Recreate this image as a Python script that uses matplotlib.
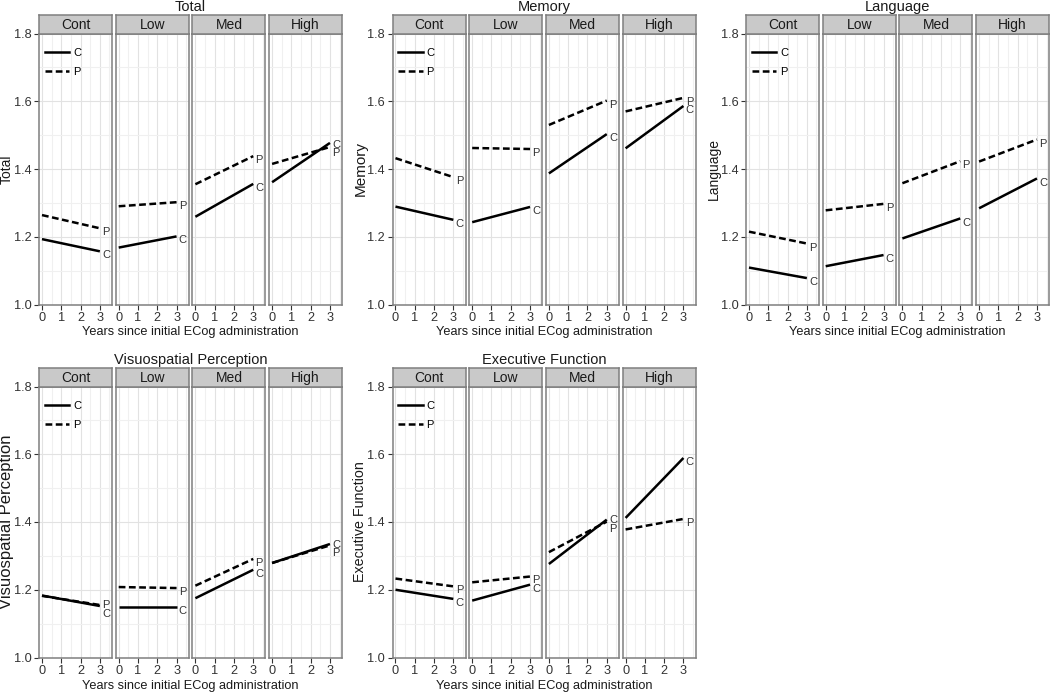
import matplotlib
matplotlib.use("Agg")
import matplotlib.pyplot as plt
from matplotlib.lines import Line2D

plt.rcParams["font.family"] = ["Liberation Sans", "DejaVu Sans"]

# ---- data: estimated values at year 0 and year 3, per impairment group ----
GROUPS = ["Cont", "Low", "Med", "High"]
YEARS = [0, 3]

TOTAL_C = [(1.193, 1.157), (1.168, 1.201), (1.259, 1.356), (1.361, 1.477)]
TOTAL_P = [(1.264, 1.225), (1.290, 1.302), (1.355, 1.438), (1.415, 1.465)]

MEMORY_C = [(1.289, 1.250), (1.243, 1.288), (1.387, 1.503), (1.461, 1.586)]
MEMORY_P = [(1.432, 1.376), (1.462, 1.459), (1.530, 1.602), (1.570, 1.610)]

LANGUAGE_C = [(1.109, 1.078), (1.113, 1.146), (1.195, 1.254), (1.284, 1.372)]
LANGUAGE_P = [(1.215, 1.180), (1.278, 1.297), (1.358, 1.423), (1.422, 1.487)]

VISUO_C = [(1.183, 1.152), (1.150, 1.150), (1.175, 1.259), (1.279, 1.335)]
VISUO_P = [(1.182, 1.155), (1.208, 1.205), (1.212, 1.291), (1.279, 1.331)]

EXEC_C = [(1.200, 1.173), (1.168, 1.215), (1.276, 1.407), (1.412, 1.589)]
EXEC_P = [(1.233, 1.210), (1.222, 1.239), (1.311, 1.401), (1.378, 1.409)]

DOMAINS = [
    ("Total", TOTAL_C, TOTAL_P),
    ("Memory", MEMORY_C, MEMORY_P),
    ("Language", LANGUAGE_C, LANGUAGE_P),
    ("Visuospatial Perception", VISUO_C, VISUO_P),
    ("Executive Function", EXEC_C, EXEC_P),
]

Y_TICKS = [1.0, 1.2, 1.4, 1.6, 1.8]
X_TICKS = [0, 1, 2, 3]
X_LABEL = "Years since initial ECog administration"

# ---- layout (pixels) ----
W, H = 1050, 694
GROUP_LEFT = [39, 392.5, 746]
ROW_STRIP_TOP = [15, 368]
STRIP_H = 18.5
PANEL_H = 271
PANEL_W = 73
PANEL_STEP = 76.7
XLIM = (-0.155, 3.63)
YLIM = (1.0, 1.8)
YLABEL_SIZE = [10, 11, 10, 12, 10.3]   # the panels were not all scaled alike

BORDER = "#7f7f7f"
STRIP_FILL = "#c9c9c9"
TEXT = "#1a1a1a"
TICK_TEXT = "#333333"
LW = 1.8
DASH = (0, (2.7, 1.4))

fig = plt.figure(figsize=(W / 100, H / 100), dpi=100)


def px_axes(left, top, width, height):
    return fig.add_axes([left / W, 1 - (top + height) / H, width / W, height / H])


def label_positions(c_end, p_end):
    """Put the end labels a bit below the line ends, pushed apart if close."""
    yc, yp = c_end - 0.012, p_end - 0.012
    if abs(yc - yp) < 0.025:
        mid = (yc + yp) / 2
        sign = 1 if c_end >= p_end else -1
        yc, yp = mid + sign * 0.0125, mid - sign * 0.0125
    return yc, yp


def draw_domain(idx, title, c_vals, p_vals):
    row, col = divmod(idx, 3)
    left = GROUP_LEFT[col]
    strip_top = ROW_STRIP_TOP[row]
    ax_top = strip_top + STRIP_H
    group_w = PANEL_STEP * 3 + PANEL_W

    for g, name in enumerate(GROUPS):
        x0 = left + g * PANEL_STEP
        ax = px_axes(x0, ax_top, PANEL_W, PANEL_H)
        ax.set_xlim(*XLIM)
        ax.set_ylim(*YLIM)
        ax.set_xticks(X_TICKS)
        ax.set_xticks([0.5, 1.5, 2.5, 3.5], minor=True)
        ax.set_yticks(Y_TICKS)
        ax.set_yticks([1.1, 1.3, 1.5, 1.7], minor=True)
        ax.grid(which="major", color="#e2e2e2", lw=0.8)
        ax.grid(which="minor", color="#f0f0f0", lw=0.8)
        ax.set_axisbelow(True)
        for s in ax.spines.values():
            s.set_color(BORDER)
            s.set_linewidth(1.1)
        ax.tick_params(which="minor", length=0)
        ax.tick_params(axis="x", which="major", length=3.5, width=0.8,
                       color="#333333", labelsize=9.2, labelcolor=TICK_TEXT, pad=1.6)
        if g == 0:
            ax.set_yticklabels([f"{v:.1f}" for v in Y_TICKS])
            ax.tick_params(axis="y", which="major", length=3.5, width=0.8,
                           color="#333333", labelsize=9.2, labelcolor=TICK_TEXT, pad=2)
        else:
            ax.tick_params(axis="y", which="major", length=0, labelleft=False)

        cy, py = c_vals[g], p_vals[g]
        ax.plot(YEARS, cy, color="black", lw=LW, solid_capstyle="butt")
        ax.plot(YEARS, py, color="black", lw=LW, linestyle=DASH, dash_capstyle="butt")
        lc, lp = label_positions(cy[-1], py[-1])
        ax.text(3.12, lc, "C", fontsize=8, color="#333333", ha="left", va="center")
        ax.text(3.12, lp, "P", fontsize=8, color="#333333", ha="left", va="center")

        if g == 0:
            handles = [Line2D([], [], color="black", lw=LW),
                       Line2D([], [], color="black", lw=LW, linestyle=DASH)]
            ax.legend(handles, ["C", "P"], loc="upper left",
                      bbox_to_anchor=(-0.03, 1 - 7 / PANEL_H),
                      frameon=False, fontsize=8, handlelength=2.2,
                      handletextpad=0.35, labelspacing=0.75, borderpad=0.7,
                      borderaxespad=0)

        sax = px_axes(x0, strip_top, PANEL_W, STRIP_H)
        sax.set_facecolor(STRIP_FILL)
        sax.set_xticks([])
        sax.set_yticks([])
        for s in sax.spines.values():
            s.set_color(BORDER)
            s.set_linewidth(1.1)
        sax.text(0.5, 0.45, name, transform=sax.transAxes, ha="center", va="center",
                 fontsize=10, color=TEXT)

    cx = (left + group_w / 2) / W
    fig.text(cx, 1 - (strip_top - 8) / H, title, ha="center", va="center",
             fontsize=10.5, color=TEXT)
    fig.text(cx, 1 - (ax_top + PANEL_H + 28) / H, X_LABEL, ha="center",
             va="center", fontsize=9.2, color=TEXT)
    fig.text((left - 32) / W, 1 - (ax_top + PANEL_H / 2) / H, title,
             rotation=90, ha="center", va="center", fontsize=YLABEL_SIZE[idx],
             color=TEXT)


for i, (title, c_vals, p_vals) in enumerate(DOMAINS):
    draw_domain(i, title, c_vals, p_vals)

fig.savefig("out.png", dpi=100, facecolor="white")
